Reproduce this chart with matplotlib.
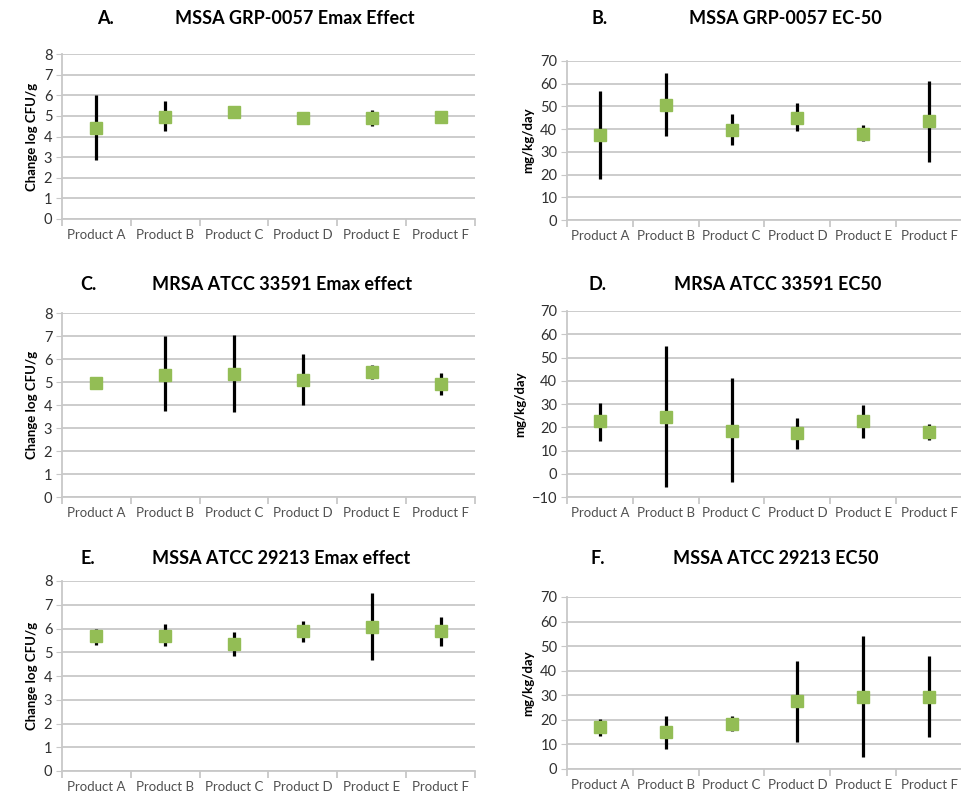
import matplotlib.pyplot as plt
from matplotlib.ticker import FixedLocator

plt.rcParams['font.family'] = ['Lato', 'DejaVu Sans']

produtos = ['Product A', 'Product B', 'Product C', 'Product D', 'Product E', 'Product F']

# media, limite inferior, limite superior
emax_grp = [4.4, 4.95, 5.2, 4.9, 4.9, 4.95]
emax_grp_low = [2.85, 4.25, 4.9, 4.75, 4.5, 4.8]
emax_grp_high = [6.0, 5.7, 5.5, 5.05, 5.3, 5.2]

ec50_grp = [37.5, 50.5, 39.5, 45.0, 38.0, 43.5]
ec50_grp_low = [18.0, 37.0, 33.0, 39.0, 35.0, 25.5]
ec50_grp_high = [57.0, 64.5, 46.5, 51.5, 42.0, 61.0]

emax_mrsa = [4.97, 5.32, 5.35, 5.1, 5.42, 4.93]
emax_mrsa_low = [4.9, 3.75, 3.7, 4.0, 5.15, 4.45]
emax_mrsa_high = [5.05, 7.0, 7.05, 6.2, 5.75, 5.4]

ec50_mrsa = [22.5, 24.5, 18.5, 17.5, 22.5, 18.0]
ec50_mrsa_low = [14.0, -5.5, -3.5, 10.5, 15.5, 14.5]
ec50_mrsa_high = [30.5, 55.0, 41.0, 24.0, 29.5, 21.5]

emax_29213 = [5.67, 5.7, 5.35, 5.88, 6.05, 5.88]
emax_29213_low = [5.3, 5.25, 4.85, 5.45, 4.68, 5.28]
emax_29213_high = [6.0, 6.2, 5.85, 6.3, 7.48, 6.48]

ec50_29213 = [17.0, 15.0, 18.5, 27.5, 29.5, 29.5]
ec50_29213_low = [13.5, 8.0, 15.5, 11.0, 5.0, 13.0]
ec50_29213_high = [20.5, 21.5, 21.5, 44.0, 54.0, 46.0]

W, H = 962, 798
VERDE = '#93BD55'
CINZA_GRADE = '#C8C8C8'


def painel(fig, caixa, media, baixo, alto, ymin, ymax, passo, ylabel,
           letra, titulo, pos_titulo):
    x0, y0, x1, y1 = caixa  # em pixels, y a partir do topo
    ax = fig.add_axes([x0 / W, 1 - y1 / H, (x1 - x0) / W, (y1 - y0) / H])
    xs = list(range(len(produtos)))
    erro_inf = [m - b for m, b in zip(media, baixo)]
    erro_sup = [a - m for m, a in zip(media, alto)]
    ax.errorbar(xs, media, yerr=[erro_inf, erro_sup], fmt='s', color=VERDE,
                markersize=8.5, markeredgecolor=VERDE, ecolor='black',
                elinewidth=2.3, capsize=0, zorder=3)
    ax.set_xlim(-0.5, len(produtos) - 0.5)
    ax.set_ylim(ymin, ymax)
    ax.set_yticks(range(ymin, ymax + 1, passo))
    ax.grid(True, axis='y', color=CINZA_GRADE, linewidth=1.3)
    ax.set_axisbelow(True)
    for lado in ['top', 'right']:
        ax.spines[lado].set_visible(False)
    for lado in ['left', 'bottom']:
        ax.spines[lado].set_color(CINZA_GRADE)
        ax.spines[lado].set_linewidth(1.3)
    ax.tick_params(axis='y', length=4, color=CINZA_GRADE, labelsize=10.5,
                   labelcolor='#303030', pad=3)
    ax.set_xticks(xs)
    ax.set_xticklabels(produtos)
    ax.tick_params(axis='x', length=0, labelsize=9.5, labelcolor='#505050', pad=7)
    ax.xaxis.set_minor_locator(FixedLocator([i + 0.5 for i in range(-1, len(produtos))]))
    ax.tick_params(axis='x', which='minor', length=5, color=CINZA_GRADE, width=1.3)
    ax.set_ylabel(ylabel, fontsize=9.5, fontweight='bold', color='black', labelpad=4)
    lx, tx, ty = pos_titulo
    fig.text(lx / W, 1 - ty / H, letra, fontsize=13, fontweight='bold',
             ha='center', va='center')
    fig.text(tx / W, 1 - ty / H, titulo, fontsize=13, fontweight='bold',
             ha='center', va='center')
    return ax


fig = plt.figure(figsize=(W / 100, H / 100), dpi=100)

painel(fig, (62, 54, 475, 219), emax_grp, emax_grp_low, emax_grp_high,
       0, 8, 1, 'Change log CFU/g', 'A.', 'MSSA GRP-0057 Emax Effect', (105, 295, 18))
painel(fig, (567, 61, 962, 220), ec50_grp, ec50_grp_low, ec50_grp_high,
       0, 70, 10, 'mg/kg/day', 'B.', 'MSSA GRP-0057 EC-50', (600, 785, 19))
painel(fig, (62, 313, 475, 497), emax_mrsa, emax_mrsa_low, emax_mrsa_high,
       0, 8, 1, 'Change log CFU/g', 'C.', 'MRSA ATCC 33591 Emax effect', (88, 282, 285))
painel(fig, (567, 311, 962, 497), ec50_mrsa, ec50_mrsa_low, ec50_mrsa_high,
       -10, 70, 10, 'mg/kg/day', 'D.', 'MRSA ATCC 33591 EC50', (598, 778, 284))
painel(fig, (62, 581, 475, 771), emax_29213, emax_29213_low, emax_29213_high,
       0, 8, 1, 'Change log CFU/g', 'E.', 'MSSA ATCC 29213 Emax effect', (88, 281, 558))
painel(fig, (567, 597, 962, 769), ec50_29213, ec50_29213_low, ec50_29213_high,
       0, 70, 10, 'mg/kg/day', 'F.', 'MSSA ATCC 29213 EC50', (598, 776, 559))

fig.savefig('out.png', dpi=100, facecolor='white')
